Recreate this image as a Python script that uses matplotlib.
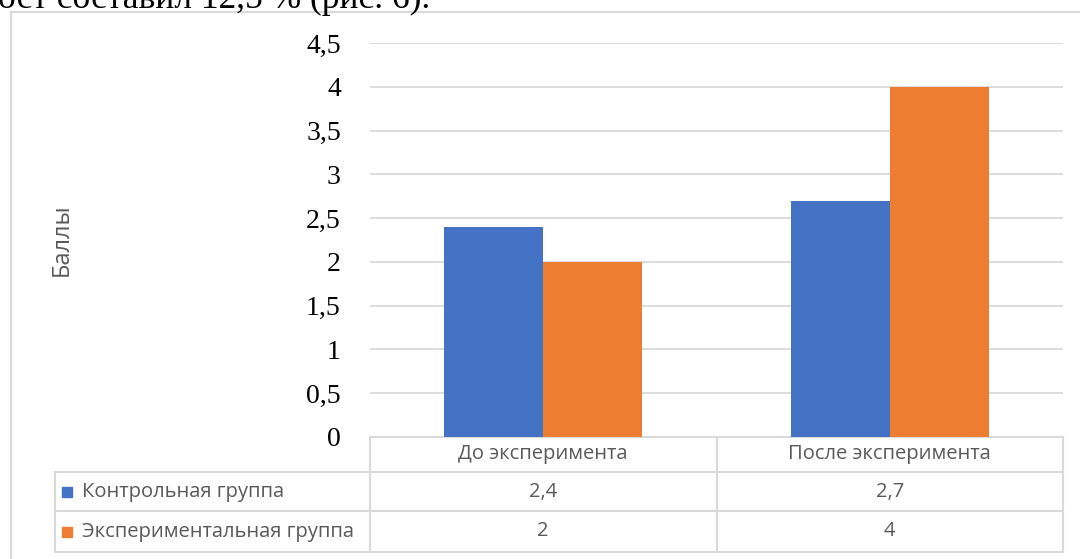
import matplotlib
matplotlib.use("Agg")
import matplotlib.pyplot as plt
import matplotlib.transforms as mtransforms
from matplotlib.patches import Rectangle
from matplotlib.lines import Line2D

# Data
categories = ["До эксперимента", "После эксперимента"]
series_names = ["Контрольная группа", "Экспериментальная группа"]
control = [2.4, 2.7]
experimental = [2.0, 4.0]
value_labels = [["2,4", "2,7"], ["2", "4"]]
yticks = [0, 0.5, 1, 1.5, 2, 2.5, 3, 3.5, 4, 4.5]
ytick_labels = ["0", "0,5", "1", "1,5", "2", "2,5", "3", "3,5", "4", "4,5"]
colors = ["#4472c4", "#ed7d31"]

W, H = 1080, 559
fig = plt.figure(figsize=(W / 100, H / 100), dpi=100)

# cut-off line of document text above the chart
fig.text(-2 / W, 1 - 8 / H, "ост составил 12,5 % (рис. 6).", family="Liberation Serif",
         fontsize=25.5, va="baseline", ha="left", color="black")

# chart frame (only left and top edges are visible)
fig.add_artist(Rectangle((11 / W, -0.1), 1.2, 1.1 - 12 / H, transform=fig.transFigure,
                         fill=False, edgecolor="#d9d9d9", linewidth=1.5))

ax = fig.add_axes([370 / W, 1 - 437 / H, (1063 - 370) / W, (437 - 43) / H])

x = range(len(categories))
bw = 1 / 3.5
ax.bar([i - bw / 2 for i in x], control, width=bw, color=colors[0], zorder=3)
ax.bar([i + bw / 2 for i in x], experimental, width=bw, color=colors[1], zorder=3)

ax.set_xlim(-0.5, 1.5)
ax.set_ylim(0, 4.5)
ax.set_yticks(yticks)
ax.set_yticklabels(ytick_labels, family="Liberation Serif", fontsize=20)
ax.tick_params(axis="y", length=0, pad=21)
ax.set_xticks([])
ax.grid(axis="y", color="#d9d9d9", linewidth=1.3, zorder=0)
for s in ax.spines.values():
    s.set_visible(False)

fig.text(62 / W, 1 - 240 / H, "Баллы", rotation=90, ha="center", va="center",
         family="Open Sans", fontsize=17, color="#595959")

# data table under the plot
trans = mtransforms.blended_transform_factory(ax.transData, ax.transAxes)
ax_h = 437 - 43
def ypix(py):
    return -(py - 437) / ax_h

row_edges = [437, 472, 511, 552]
label_left = -0.5 - 315 / 346.5
grid_col = "#d9d9d9"
lkw = dict(color=grid_col, linewidth=1.5, transform=trans, clip_on=False)

# header row: only the data columns are boxed
ax.add_line(Line2D([-0.5, 1.5], [ypix(437)] * 2, **lkw))
for py in row_edges[1:]:
    ax.add_line(Line2D([label_left, 1.5], [ypix(py)] * 2, **lkw))
for cx in [-0.5, 0.5, 1.5]:
    ax.add_line(Line2D([cx, cx], [ypix(437), ypix(552)], **lkw))
ax.add_line(Line2D([label_left, label_left], [ypix(472), ypix(552)], **lkw))

tkw = dict(family="Open Sans", fontsize=14.5, color="#595959", transform=trans,
           clip_on=False, va="center")
for i, cat in enumerate(categories):
    ax.text(i, ypix((row_edges[0] + row_edges[1]) / 2), cat, ha="center", **tkw)
for r, name in enumerate(series_names):
    yc = ypix((row_edges[r + 1] + row_edges[r + 2]) / 2)
    ax.plot([label_left + 12 / 346.5], [yc], marker="s", markersize=7.5,
            color=colors[r], transform=trans, clip_on=False, linestyle="none")
    ax.text(label_left + 27 / 346.5, yc, name, ha="left", **tkw)
    for i in x:
        ax.text(i, yc, value_labels[r][i], ha="center", **tkw)

fig.savefig("out.png", dpi=100)
